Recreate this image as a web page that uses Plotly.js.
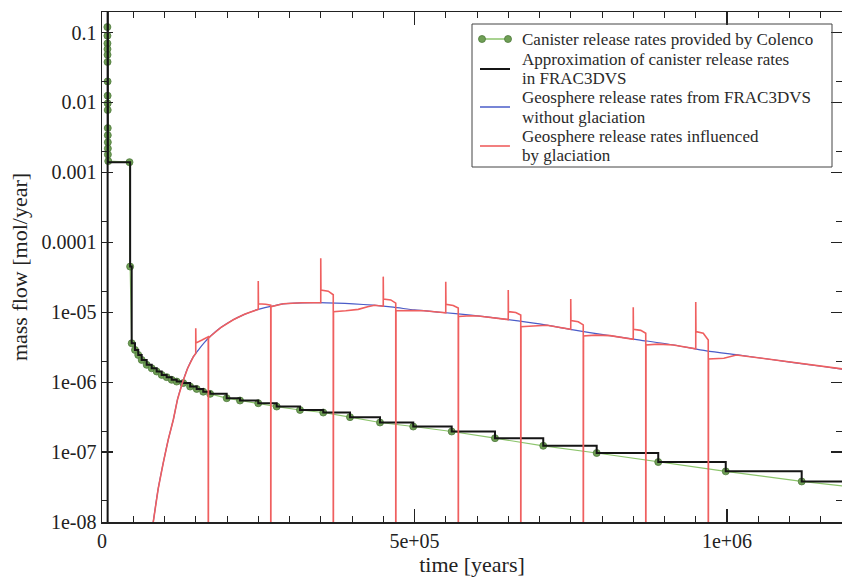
<!DOCTYPE html>
<html>
<head>
<meta charset="utf-8">
<script src="https://cdn.plot.ly/plotly-3.0.1.min.js"></script>
<style>html,body{margin:0;padding:0;background:#fff;}#chart{width:842px;height:584px;}</style>
</head>
<body>
<div id="chart"></div>
<script>
// ---- Canister release rates provided by Colenco (dots) ----
const greenT = [8600, 8660, 8720, 8780, 8840, 8900, 8960, 9020, 9080, 9140, 9200, 9260, 9320, 9380, 9440,
  10000, 44000, 45000, 47500,
  52800, 58000, 63500, 71500, 79500, 87500, 95500, 103500, 111500, 119500, 130000, 141000, 151500, 162000, 173000,
  199500, 220800, 250000, 279500, 316800, 354000, 396800, 444800, 498000, 559500, 628800, 706000, 791500, 890000,
  998000, 1119500, 1255000];
const greenV = [0.12, 0.09, 0.07, 0.058, 0.048, 0.038, 0.02, 0.0125, 0.0097, 0.0078, 0.0043, 0.0034, 0.0027, 0.0022, 0.0018,
  0.00145, 0.0014, 4.5e-5, 3.6e-6,
  2.89e-6, 2.45e-6, 2.08e-6, 1.77e-6, 1.58e-6, 1.42e-6, 1.27e-6, 1.18e-6, 1.08e-6, 1.02e-6, 9.7e-7, 8.65e-7, 8.0e-7, 7.3e-7, 6.8e-7,
  5.9e-7, 5.46e-7, 5.0e-7, 4.48e-7, 4.0e-7, 3.68e-7, 3.16e-7, 2.65e-7, 2.32e-7, 1.97e-7, 1.58e-7, 1.23e-7, 9.7e-8, 7.2e-8,
  5.3e-8, 3.8e-8, 2.8e-8];

// ---- Approximation of canister release rates in FRAC3DVS (step function) ----
const blackT = [0, 9000, 9400, 45000, 47500,
  52800, 58000, 63500, 71500, 79500, 87500, 95500, 103500, 111500, 119500, 130000, 141000, 151500, 162000, 173000,
  199500, 220800, 250000, 279500, 316800, 354000, 396800, 444800, 498000, 559500, 628800, 706000, 791500, 890000,
  998000, 1119500, 1255000];
const blackV = [1e-12, 1.0, 0.0014, 4.5e-5, 3.6e-6,
  2.89e-6, 2.45e-6, 2.08e-6, 1.77e-6, 1.58e-6, 1.42e-6, 1.27e-6, 1.18e-6, 1.08e-6, 1.02e-6, 9.7e-7, 8.65e-7, 8.0e-7, 7.3e-7, 6.8e-7,
  5.9e-7, 5.46e-7, 5.0e-7, 4.48e-7, 4.0e-7, 3.68e-7, 3.16e-7, 2.65e-7, 2.32e-7, 1.97e-7, 1.58e-7, 1.23e-7, 9.7e-8, 7.2e-8,
  5.3e-8, 3.8e-8, 2.8e-8];

// ---- Geosphere release rates from FRAC3DVS without glaciation ----
const blueT = [70000, 76000, 82000, 90000, 98000, 106000, 114000, 121000, 129000, 137000, 146000, 155000, 164000, 173000,
  190000, 210000, 228000, 247000, 268000, 290000, 320000, 349000, 375000, 402000, 434000, 466000, 500000, 541000,
  590000, 647000, 700000, 754000, 807000, 861000, 915000, 967000, 1020000, 1074000, 1128000, 1181000, 1200000];
const blueV = [1e-9, 3.98e-9, 1e-8, 3.02e-8, 7.0e-8, 1.51e-7, 2.88e-7, 5.75e-7, 1.0e-6, 1.58e-6, 2.3e-6, 2.95e-6, 3.7e-6, 4.5e-6,
  6.03e-6, 7.8e-6, 9.33e-6, 1.08e-5, 1.2e-5, 1.32e-5, 1.365e-5, 1.37e-5, 1.35e-5, 1.32e-5, 1.26e-5, 1.18e-5, 1.08e-5, 1.0e-5,
  9.1e-6, 7.9e-6, 6.8e-6, 5.6e-6, 4.7e-6, 4.0e-6, 3.4e-6, 2.8e-6, 2.43e-6, 2.09e-6, 1.8e-6, 1.55e-6, 1.48e-6];

// ---- Geosphere release rates influenced by glaciation ----
const redT = [70000, 76000, 82000, 90000, 98000, 106000, 114000, 121000, 129000, 137000, 146000,
  150000, 150000, 150300, 160000, 170000, 170000, 170400, 173000, 190000, 210000, 228000, 247000,
  250000, 250000, 250300, 262000, 270000, 270000, 270400, 290000, 320000,
  350000, 350000, 350300, 362000, 370000, 370000, 370400, 390000, 410000, 425000, 436000,
  450000, 450000, 450300, 462000, 470000, 470000, 470400, 495000, 515000, 541000,
  550000, 550000, 550300, 562000, 570000, 570000, 570400, 590000, 602000, 647000,
  650000, 650000, 650300, 662000, 670000, 670000, 670400, 690000, 712000,
  750000, 750000, 750300, 762000, 770000, 770000, 770400, 790000, 813000,
  850000, 850000, 850300, 862000, 870000, 870000, 870400, 890000, 914000,
  950000, 950000, 950300, 962000, 970000, 970000, 970400, 995000, 1015000, 1074000, 1128000, 1181000, 1200000];
const redV = [1e-9, 3.98e-9, 1e-8, 3.02e-8, 7.0e-8, 1.51e-7, 2.88e-7, 5.75e-7, 1.0e-6, 1.58e-6, 2.3e-6,
  2.57e-6, 5.9e-6, 3.64e-6, 4.0e-6, 4.45e-6, 1e-12, 4.24e-6, 4.5e-6, 6.03e-6, 7.8e-6, 9.33e-6, 1.08e-5,
  1.1e-5, 2.8e-5, 1.32e-5, 1.3e-5, 1.26e-5, 1e-12, 1.2e-5, 1.32e-5, 1.365e-5,
  1.37e-5, 5.9e-5, 2.08e-5, 2.0e-5, 1.78e-5, 1e-12, 1.02e-5, 1.05e-5, 1.1e-5, 1.2e-5, 1.26e-5,
  1.22e-5, 3.23e-5, 1.55e-5, 1.5e-5, 1.35e-5, 1e-12, 1.05e-5, 1.06e-5, 1.05e-5, 1.0e-5,
  9.8e-6, 2.73e-5, 1.3e-5, 1.25e-5, 1.15e-5, 1e-12, 8.7e-6, 8.9e-6, 8.85e-6, 7.9e-6,
  7.85e-6, 2.08e-5, 1.02e-5, 9.9e-6, 9.1e-6, 1e-12, 6.2e-6, 6.35e-6, 6.5e-6,
  5.7e-6, 1.55e-5, 7.6e-6, 7.3e-6, 6.6e-6, 1e-12, 4.58e-6, 4.7e-6, 4.63e-6,
  4.11e-6, 1.18e-5, 5.7e-6, 5.5e-6, 5.0e-6, 1e-12, 3.41e-6, 3.5e-6, 3.4e-6,
  3.0e-6, 1.4e-5, 5.3e-6, 5.0e-6, 4.0e-6, 1e-12, 2.15e-6, 2.2e-6, 2.45e-6, 2.09e-6, 1.8e-6, 1.55e-6, 1.48e-6];

// ---- axis ticks ----
const xTickVals = [0, 500000, 1000000];
const xTickText = ['0', '5e+05', '1e+06'];
const yTickVals = [1e-8, 1e-7, 1e-6, 1e-5, 1e-4, 1e-3, 1e-2, 1e-1];
const yTickText = ['1e-08', '1e-07', '1e-06', '1e-05', '0.0001', '0.001', '0.01', '0.1'];
const yMinorVals = [2e-8, 2e-7, 2e-6, 2e-5, 2e-4, 2e-3, 2e-2];

// ---- legend text ----
const legendNames = [
  ['Canister release rates provided by Colenco'],
  ['Approximation of canister release rates', 'in FRAC3DVS'],
  ['Geosphere release rates from FRAC3DVS', 'without glaciation'],
  ['Geosphere release rates influenced', 'by glaciation']
];

const C_GREEN_LINE = '#8cc46c';
const C_GREEN_DOT = '#6f9f55';
const C_BLACK = '#151515';
const C_BLUE = '#4a5cc8';
const C_RED = '#ef5f5f';
const FONT = 'Liberation Serif, Times New Roman, serif';

const traces = [
  { x: greenT, y: greenV, type: 'scatter', mode: 'lines+markers', name: legendNames[0].join(' '),
    line: { color: C_GREEN_LINE, width: 1.2 },
    marker: { color: C_GREEN_DOT, size: 7, line: { color: '#4f7a3c', width: 0.8 } }, showlegend: false },
  { x: blackT, y: blackV, type: 'scatter', mode: 'lines', name: legendNames[1].join(' '),
    line: { color: C_BLACK, width: 2, shape: 'hv' }, showlegend: false },
  { x: blueT, y: blueV, type: 'scatter', mode: 'lines', name: legendNames[2].join(' '),
    line: { color: C_BLUE, width: 1.2, shape: 'spline', smoothing: 0.6 }, showlegend: false },
  { x: redT, y: redV, type: 'scatter', mode: 'lines', name: legendNames[3].join(' '),
    line: { color: C_RED, width: 1.6 }, showlegend: false }
];

// manual legend (Grace-style tight line spacing)
const L = 102, T = 12, W = 740, H = 510;
const px = v => (v - L) / W;
const py = v => (T + H - v) / H;
const shapes = [
  { type: 'rect', xref: 'paper', yref: 'paper', x0: px(472), x1: px(832), y0: py(167), y1: py(24),
    line: { color: '#444', width: 1 }, fillcolor: 'rgba(0,0,0,0)' },
  { type: 'line', xref: 'paper', yref: 'paper', x0: px(482), x1: px(508), y0: py(39), y1: py(39), line: { color: C_GREEN_LINE, width: 1.5 } },
  { type: 'line', xref: 'paper', yref: 'paper', x0: px(480), x1: px(510), y0: py(69), y1: py(69), line: { color: C_BLACK, width: 2 } },
  { type: 'line', xref: 'paper', yref: 'paper', x0: px(480), x1: px(510), y0: py(107), y1: py(107), line: { color: C_BLUE, width: 1.5 } },
  { type: 'line', xref: 'paper', yref: 'paper', x0: px(480), x1: px(510), y0: py(146), y1: py(146), line: { color: C_RED, width: 1.6 } }
];
[482, 508].forEach(cx => shapes.push({ type: 'circle', xref: 'paper', yref: 'paper', xsizemode: 'pixel', ysizemode: 'pixel',
  xanchor: px(cx), yanchor: py(39), x0: -3.5, x1: 3.5, y0: -3.5, y1: 3.5, fillcolor: C_GREEN_DOT, line: { color: '#4f7a3c', width: 0.8 } }));

const lineYs = [[39], [59.5, 78.5], [98, 117], [136.5, 155.5]];
const annotations = [];
legendNames.forEach((lines, i) => lines.forEach((t, j) => annotations.push({
  xref: 'paper', yref: 'paper', x: px(521), y: py(lineYs[i][j]), xanchor: 'left', yanchor: 'middle',
  text: t, showarrow: false, borderpad: 0, font: { family: FONT, size: 17, color: '#2a2a2a' }
})));

const layout = {
  width: 842, height: 584,
  margin: { l: L, r: 0, t: T, b: 584 - T - H },
  paper_bgcolor: '#fff', plot_bgcolor: '#fff',
  showlegend: false,
  font: { family: FONT, color: '#222' },
  xaxis: {
    range: [0, 1184000], tickmode: 'array', tickvals: xTickVals, ticktext: xTickText,
    ticks: 'inside', ticklen: 13, tickwidth: 1.3, tickcolor: '#222',
    minor: { tickmode: 'linear', tick0: 0, dtick: 50000, ticks: 'inside', ticklen: 6, tickwidth: 1, tickcolor: '#222' },
    showline: true, linecolor: '#222', linewidth: 1.5, mirror: 'allticks',
    showgrid: false, zeroline: false,
    tickfont: { family: FONT, size: 20, color: '#222' },
    title: { text: 'time [years]', font: { family: FONT, size: 22, color: '#222' }, standoff: 6 }
  },
  yaxis: {
    type: 'log', range: [-8, -0.706], tickmode: 'array', tickvals: yTickVals, ticktext: yTickText,
    ticks: 'inside', ticklen: 11, tickwidth: 1.3, tickcolor: '#222',
    minor: { tickmode: 'array', tickvals: yMinorVals, ticks: 'inside', ticklen: 6, tickwidth: 1, tickcolor: '#222' },
    showline: true, linecolor: '#222', linewidth: 1.5, mirror: 'allticks',
    showgrid: false, zeroline: false,
    tickfont: { family: FONT, size: 20, color: '#222' },
    title: { text: 'mass flow [mol/year]', font: { family: FONT, size: 22, color: '#222' }, standoff: 8 }
  },
  shapes: shapes,
  annotations: annotations
};

Plotly.newPlot('chart', traces, layout, { displayModeBar: false, staticPlot: true });
</script>
</body>
</html>
